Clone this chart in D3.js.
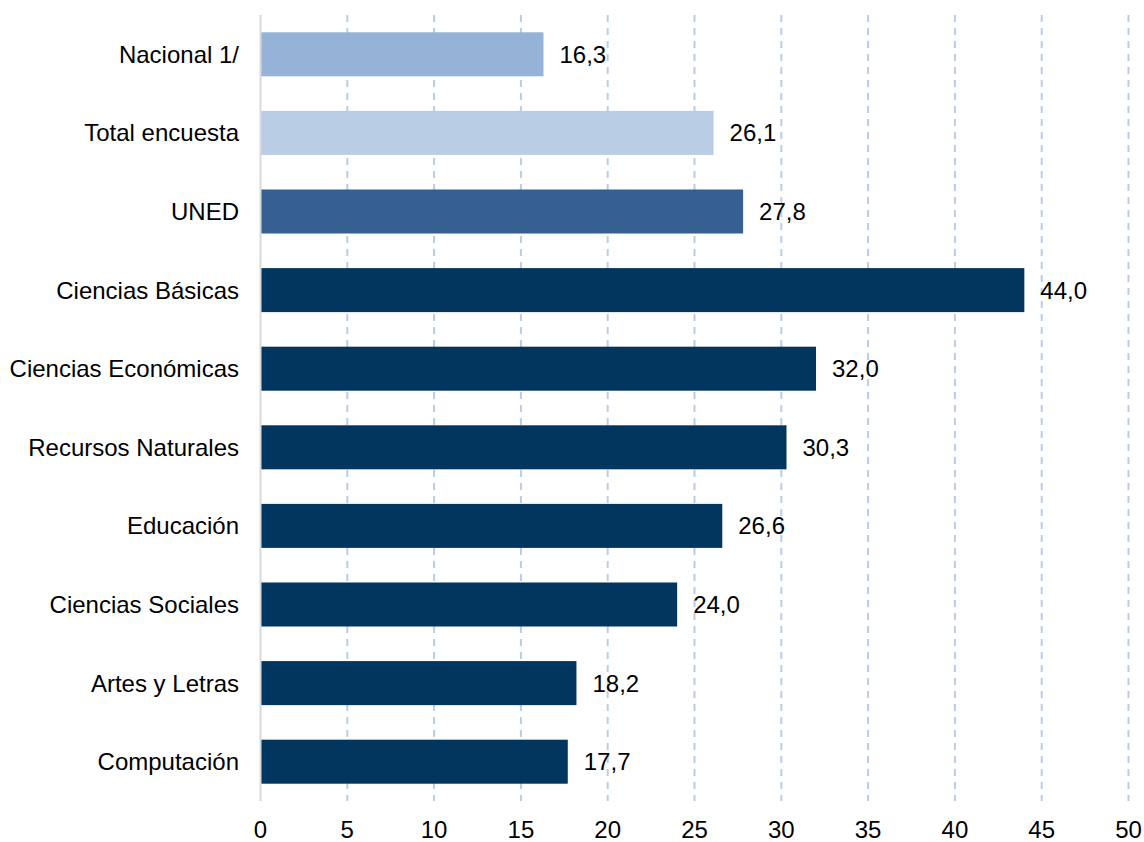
<!DOCTYPE html>
<html><head><meta charset="utf-8">
<script src="https://cdn.jsdelivr.net/npm/d3@7"></script>
<style>body{margin:0;background:#fff;}svg{display:block;font-family:"Liberation Sans",Arial,sans-serif;}</style>
</head><body>
<svg id="chart" width="1144" height="842"></svg>
<script>
const categories = ["Nacional 1/","Total encuesta","UNED","Ciencias Básicas","Ciencias Económicas","Recursos Naturales","Educación","Ciencias Sociales","Artes y Letras","Computación"];
const values = [16.3,26.1,27.8,44.0,32.0,30.3,26.6,24.0,18.2,17.7];
const barColors = ["#95b3d7","#b9cde5","#366092","#03365f","#03365f","#03365f","#03365f","#03365f","#03365f","#03365f"];
const ticks = [0,5,10,15,20,25,30,35,40,45,50];

const svg = d3.select("#chart");
const x = d3.scaleLinear().domain([0,50]).range([260.5,1128.5]);
const y = d3.scaleBand().domain(categories).range([15,801]).paddingInner(0.44).paddingOuter(0.22);
const fs = 24;

// grid
svg.append("g").selectAll("line").data(ticks.slice(1)).join("line")
  .attr("x1",d=>x(d)).attr("x2",d=>x(d)).attr("y1",15).attr("y2",801)
  .attr("stroke","#b9cde5").attr("stroke-width",2).attr("stroke-dasharray","7,6");

// bars
svg.append("g").selectAll("rect").data(categories).join("rect")
  .attr("x",x(0)).attr("y",d=>y(d)).attr("width",(d,i)=>x(values[i])-x(0))
  .attr("height",y.bandwidth()).attr("fill",(d,i)=>barColors[i]);

// y axis line
svg.append("line").attr("x1",260.5).attr("x2",260.5).attr("y1",15).attr("y2",801)
  .attr("stroke","#d9d9d9").attr("stroke-width",2);

// value labels
svg.append("g").selectAll("text").data(categories).join("text")
  .attr("x",(d,i)=>x(values[i])+16).attr("y",d=>y(d)+y.bandwidth()/2).attr("dy","0.35em")
  .attr("font-size",fs).attr("fill","#000")
  .text((d,i)=>values[i].toFixed(1).replace(".",","));

// category labels
svg.append("g").selectAll("text").data(categories).join("text")
  .attr("x",239).attr("y",d=>y(d)+y.bandwidth()/2).attr("dy","0.35em")
  .attr("text-anchor","end").attr("font-size",fs).attr("fill","#000").text(d=>d);

// x tick labels
svg.append("g").selectAll("text").data(ticks).join("text")
  .attr("x",d=>x(d)).attr("y",830).attr("dy","0.35em").attr("text-anchor","middle")
  .attr("font-size",fs).attr("fill","#000").text(d=>d);
</script>
</body></html>
